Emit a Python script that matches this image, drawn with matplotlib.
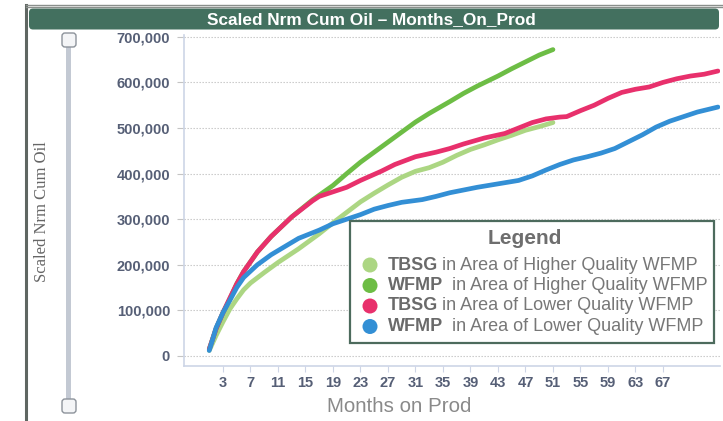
import matplotlib
matplotlib.use("Agg")
import matplotlib.pyplot as plt
from matplotlib.patches import FancyBboxPatch, Rectangle, Circle
from matplotlib.ticker import FuncFormatter

# Données : cumul de production normalisé par mois de production
mois_tbsg_haut = [1, 2, 3, 4, 5, 6, 7, 9, 11, 14, 17, 19, 21, 23, 25, 27, 29,
                  31, 33, 35, 37, 39, 41, 43, 45, 47, 49, 51]
tbsg_haut = [12000, 45000, 75000, 103000, 125000, 145000, 160000, 183000,
             205000, 235000, 268000, 292000, 315000, 338000, 357000, 375000,
             392000, 405000, 413000, 425000, 440000, 453000, 463000, 474000,
             484000, 495000, 503000, 512000]

mois_wfmp_haut = [1, 2, 3, 4, 5, 6, 8, 10, 13, 16, 19, 21, 23, 26, 28, 31,
                  33, 36, 38, 40, 43, 45, 47, 49, 51]
wfmp_haut = [15000, 60000, 95000, 125000, 158000, 185000, 228000, 262000,
             305000, 342000, 374000, 400000, 425000, 458000, 480000, 513000,
             532000, 558000, 576000, 592000, 614000, 630000, 645000, 660000,
             672000]

mois_tbsg_bas = [1, 2, 3, 4, 5, 6, 8, 10, 13, 16, 17, 19, 21, 23, 26, 28, 31,
                 34, 36, 38, 41, 44, 46, 48, 50, 52, 53, 55, 57, 59, 61, 63,
                 65, 67, 69, 71, 73, 75]
tbsg_bas = [15000, 60000, 95000, 127000, 158000, 185000, 228000, 262000,
            305000, 340000, 350000, 360000, 370000, 385000, 405000, 420000,
            437000, 447000, 455000, 465000, 478000, 488000, 500000, 512000,
            520000, 524000, 525000, 538000, 550000, 565000, 578000, 585000,
            590000, 600000, 608000, 614000, 618000, 625000]

mois_wfmp_bas = [1, 2, 3, 4, 5, 6, 8, 10, 12, 14, 17, 19, 21, 23, 25, 27, 29,
                 32, 34, 36, 38, 40, 42, 44, 46, 48, 50, 52, 54, 56, 58, 60,
                 62, 64, 66, 68, 70, 72, 75]
wfmp_bas = [12000, 62000, 95000, 122000, 150000, 172000, 200000, 222000,
            240000, 258000, 276000, 290000, 300000, 310000, 322000, 330000,
            337000, 343000, 350000, 358000, 364000, 370000, 375000, 380000,
            385000, 395000, 408000, 420000, 430000, 437000, 445000, 455000,
            470000, 485000, 502000, 515000, 525000, 535000, 546000]

series = [
    (mois_tbsg_haut, tbsg_haut, "#acd683", "TBSG", "in Area of Higher Quality WFMP"),
    (mois_wfmp_haut, wfmp_haut, "#6dbd45", "WFMP", " in Area of Higher Quality WFMP"),
    (mois_tbsg_bas, tbsg_bas, "#e8306c", "TBSG", "in Area of Lower Quality WFMP"),
    (mois_wfmp_bas, wfmp_bas, "#338fd5", "WFMP", " in Area of Lower Quality WFMP"),
]

graduations_x = list(range(3, 68, 4))
graduations_y = list(range(0, 700001, 100000))

W, H = 723, 421
fig = plt.figure(figsize=(W / 100, H / 100), dpi=100)


def px(x0, y0, x1, y1):
    # rectangle en pixels (origine en haut à gauche) -> fraction de figure
    return [x0 / W, 1 - y1 / H, (x1 - x0) / W, (y1 - y0) / H]


ax = fig.add_axes(px(184, 35, 720, 366))
for mois, vals, couleur, _, _ in series:
    ax.plot(mois, vals, color=couleur, linewidth=3.4, solid_capstyle="round",
            solid_joinstyle="round", zorder=3)

ax.set_xlim(-2.67, 75.3)
ax.set_ylim(-22000, 704000)
ax.set_xticks(graduations_x)
ax.set_yticks(graduations_y)
ax.yaxis.set_major_formatter(FuncFormatter(lambda v, p: f"{int(v):,}"))
ax.grid(axis="y", color="#c4c4c4", linestyle=(0, (1.2, 1.5)), linewidth=0.8)
ax.grid(axis="x", visible=False)
for cote in ["top", "right"]:
    ax.spines[cote].set_visible(False)
for cote in ["left", "bottom"]:
    ax.spines[cote].set_color("#cdd5e6")
    ax.spines[cote].set_linewidth(1.2)
ax.tick_params(axis="y", length=5, color="#c4c4c4", pad=5)
ax.tick_params(axis="x", length=4, color="#cdd5e6", pad=3)
for lab in ax.get_xticklabels() + ax.get_yticklabels():
    lab.set_family("Liberation Sans")
    lab.set_fontsize(10.5)
    lab.set_fontweight("bold")
    lab.set_color("#565f76")
ax.set_xlabel("Months on Prod", fontsize=14.8, color="#8a8a8a",
              family="Liberation Sans")
ax.xaxis.set_label_coords(0.402, -0.121)
ax.xaxis.label.set_va("center")

# calque de décor par-dessus le graphique, en pixels
deco = fig.add_axes([0, 0, 1, 1], zorder=10)
deco.set_xlim(0, W)
deco.set_ylim(H, 0)
deco.axis("off")
deco.patch.set_alpha(0)

# cadre extérieur
deco.plot([25.5, 25.5], [5, H], color="#5f6662", linewidth=2.2)
deco.plot([25.5, W], [4.5, 4.5], color="#8a8f8c", linewidth=1.0)
deco.plot([25.5, W], [6.5, 6.5], color="#8a8f8c", linewidth=1.0)

# bandeau de titre
deco.add_patch(FancyBboxPatch((29, 8.5), W - 33, 21,
                              boxstyle="round,pad=0,rounding_size=4",
                              facecolor="#43705f", edgecolor="none"))
deco.text(371, 19.5, "Scaled Nrm Cum Oil \u2013 Months_On_Prod", color="white",
          fontsize=12.4, fontweight="bold", family="Liberation Sans",
          ha="center", va="center")

# curseur vertical
deco.add_patch(Rectangle((66, 44), 5, 358, facecolor="#c3c9d3", edgecolor="none"))
for yc in (40, 406):
    deco.add_patch(FancyBboxPatch((62, yc - 7), 14, 14,
                                  boxstyle="round,pad=0,rounding_size=3",
                                  facecolor="#f4f5f7", edgecolor="#8d939b",
                                  linewidth=1.0))

deco.text(42, 212, "Scaled Nrm Cum Oil", rotation=90, family="Liberation Serif",
          fontsize=12, color="#666666", ha="center", va="center")

# légende
deco.add_patch(Rectangle((350, 220.5), 364, 122.5, facecolor="white",
                         edgecolor="#4d6b5d", linewidth=1.6))
deco.text(525, 239, "Legend", fontsize=15, fontweight="bold",
          family="Liberation Sans", color="#6e6e6e", ha="center", va="center")
lignes_y = [265, 285.5, 306, 326.5]
for (_, _, couleur, gras, reste), yl in zip(series, lignes_y):
    deco.add_patch(Circle((370, yl), 7.5, facecolor=couleur, edgecolor="none"))
    t = deco.text(388, yl, gras, fontsize=13, fontweight="bold",
                  family="Liberation Sans", color="#6a6a6a", va="center")
    deco.annotate(reste, xy=(1, 0.5), xycoords=t, xytext=(3, 0),
                  textcoords="offset points", fontsize=13,
                  family="Liberation Sans", color="#777777", va="center")

fig.savefig("out.png", dpi=100)
